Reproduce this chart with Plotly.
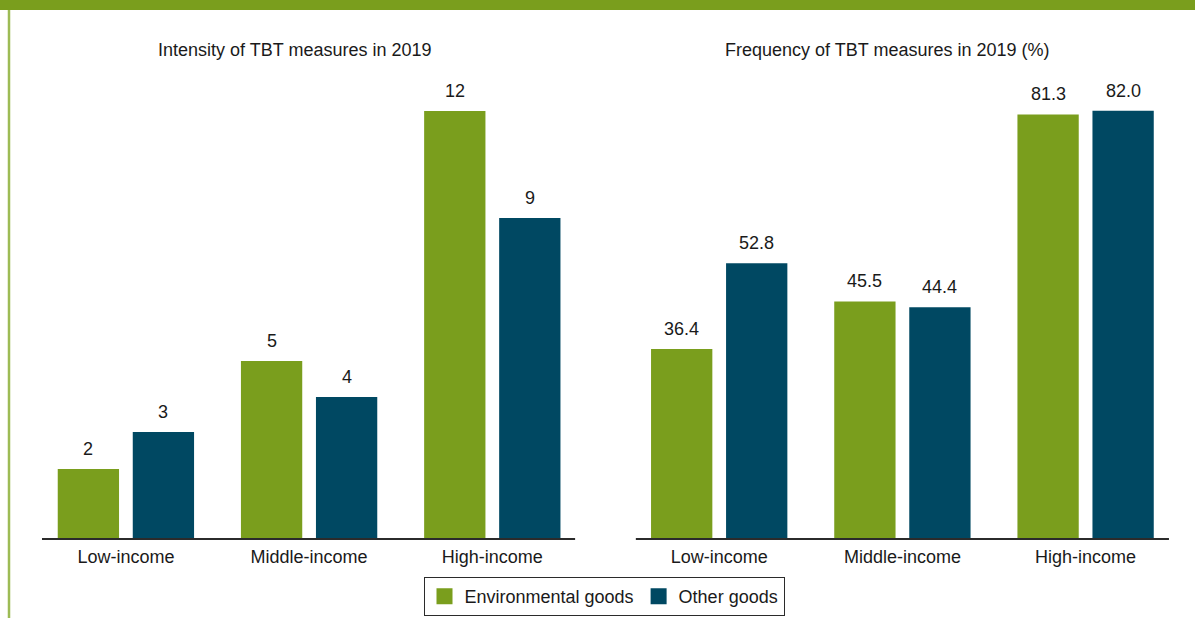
import plotly.graph_objects as go

categories = ["Low-income", "Middle-income", "High-income"]
series_names = ["Environmental goods", "Other goods"]
intensity_env = [1.96, 4.99, 12.0]
intensity_other = [3.0, 3.98, 9.0]
frequency_env = [36.4, 45.5, 81.3]
frequency_other = [52.8, 44.4, 82.0]
titles = ["Intensity of TBT measures in 2019", "Frequency of TBT measures in 2019 (%)"]

GREEN = "#7a9e1d"
NAVY = "#004862"
FONT = "Liberation Sans, Arial, sans-serif"
TXT = "#1a1a1a"
FS = 18

W, H = 1195, 618
M_T, M_B = 80, 79

fig = go.Figure()
panels = [("x", "y", intensity_env, intensity_other, "{:.0f}"),
          ("x2", "y2", frequency_env, frequency_other, "{:.1f}")]
for xa, ya, env, oth, fmt in panels:
    fig.add_trace(go.Bar(x=categories, y=env, name=series_names[0], marker=dict(color=GREEN, line=dict(width=0)),
                         xaxis=xa, yaxis=ya, showlegend=False, hoverinfo="skip"))
    fig.add_trace(go.Bar(x=categories, y=oth, name=series_names[1], marker=dict(color=NAVY, line=dict(width=0)),
                         xaxis=xa, yaxis=ya, showlegend=False, hoverinfo="skip"))

# legend entries
for name, col in zip(series_names, [GREEN, NAVY]):
    fig.add_trace(go.Scatter(x=[None], y=[None], mode="markers", name=name,
                             marker=dict(symbol="square", size=16, color=col), xaxis="x", yaxis="y"))

annotations = []
for xa, ya, env, oth, fmt in panels:
    for c, v in zip(categories, env):
        annotations.append(dict(x=c, y=v, xref=xa, yref=ya, text=fmt.format(v), showarrow=False,
                                xshift=-37.5, yshift=8, yanchor="bottom", font=dict(size=FS, color=TXT, family=FONT)))
    for c, v in zip(categories, oth):
        annotations.append(dict(x=c, y=v, xref=xa, yref=ya, text=fmt.format(v), showarrow=False,
                                xshift=37.5, yshift=8, yanchor="bottom", font=dict(size=FS, color=TXT, family=FONT)))

plot_h = H - M_T - M_B
title_y = (H - M_B - 50) / plot_h
for t, cx in zip(titles, [294, 886.5]):
    annotations.append(dict(x=cx / W, y=title_y, xref="paper", yref="paper", text=t, showarrow=False,
                            xanchor="center", yanchor="middle", font=dict(size=FS, color=TXT, family=FONT)))

shapes = [
    dict(type="rect", xref="paper", yref="paper", x0=-0.01, x1=1.01, y0=(H - M_B - 10) / plot_h, y1=(H - M_B + 5) / plot_h,
         fillcolor=GREEN, line=dict(width=0), layer="above"),
    dict(type="line", xref="paper", yref="paper", x0=9 / W, x1=9 / W, y0=-0.3, y1=(H - M_B - 10) / plot_h,
         line=dict(color="#9dbb55", width=2.5)),
    dict(type="line", xref="x domain", yref="y domain", x0=0.014, x1=0.984, y0=0, y1=0,
         line=dict(color="#2b2b2b", width=2)),
    dict(type="line", xref="x2 domain", yref="y2 domain", x0=0.015, x1=0.985, y0=0, y1=0,
         line=dict(color="#2b2b2b", width=2)),
]

axis_common = dict(showline=False, showgrid=False, zeroline=False, ticks="", ticklabelstandoff=5,
                   tickfont=dict(size=FS, color=TXT, family=FONT), fixedrange=True)

fig.update_layout(
    width=W, height=H,
    margin=dict(l=0, r=0, t=M_T, b=M_B, autoexpand=False),
    paper_bgcolor="white", plot_bgcolor="white",
    font=dict(family=FONT, color=TXT, size=FS),
    barmode="group", bargap=0.181, bargroupgap=0.183,
    xaxis=dict(domain=[34.3 / W, 583.9 / W], anchor="y", **axis_common),
    xaxis2=dict(domain=[627.6 / W, 1177.2 / W], anchor="y2", **axis_common),
    yaxis=dict(range=[0, 12.87], visible=False, anchor="x"),
    yaxis2=dict(range=[0, 87.9], visible=False, anchor="x2"),
    showlegend=True,
    hovermode=False,
    legend=dict(orientation="h", x=604 / W, xanchor="center", y=(H - M_B - 577) / plot_h, yanchor="top",
                bordercolor="#2b2b2b", borderwidth=1, bgcolor="white",
                font=dict(size=FS, color=TXT, family=FONT), itemclick=False, itemdoubleclick=False),
    annotations=annotations,
    shapes=shapes,
)

fig.write_html("out.html", config={"displayModeBar": False, "staticPlot": True},
               post_script="document.body.style.margin='0px';document.body.style.overflow='hidden';")
